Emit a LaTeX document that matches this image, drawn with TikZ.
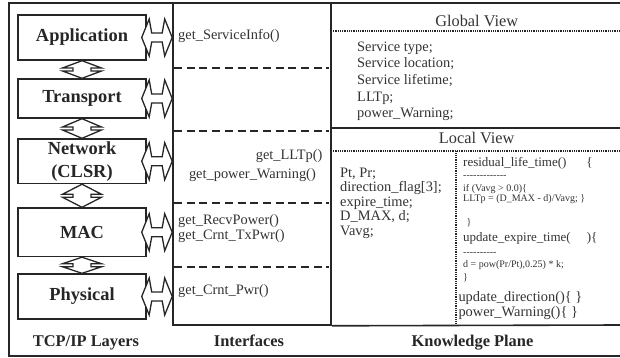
\documentclass[tikz,border=0pt]{standalone}
\usepackage{fontspec}
\setmainfont{Liberation Serif}
\usetikzlibrary{calc}
\newcommand\fsz[2]{\fontsize{#1}{#2}\selectfont}

% horizontal double arrow between a left tip and a right tip
\newcommand\hdarrow[2]{%
  \draw[dblarrow] (#1) -- ($(#1)+(7.5,-18.5)$) -- ($(#1)+(10,-4.5)$)
    -- ($(#2)+(-10,-4.5)$) -- ($(#2)+(-7.5,-18.5)$) -- (#2)
    -- ($(#2)+(-7.5,18.5)$) -- ($(#2)+(-10,4.5)$)
    -- ($(#1)+(10,4.5)$) -- ($(#1)+(7.5,18.5)$) -- cycle;}
% short vertical double arrow between two stacked layers
\newcommand\vdarrow[2]{%
  \coordinate (vm) at ($(#1)!0.5!(#2)$);
  \draw[dblarrow] (#1) -- ($(vm)+(19.5,-1.5)$) -- ($(vm)+(9,-1.5)$)
    -- ($(vm)+(9,1.5)$) -- ($(vm)+(19.5,1.5)$) -- (#2)
    -- ($(vm)+(-19.5,1.5)$) -- ($(vm)+(-9,1.5)$)
    -- ($(vm)+(-9,-1.5)$) -- ($(vm)+(-19.5,-1.5)$) -- cycle;}

\begin{document}
\begin{tikzpicture}[x=1pt,y=-1pt,
  frameline/.style={draw=black!85,line width=1.6pt},
  layerbox/.style={draw=black!85,line width=1.4pt,fill=white,minimum width=128pt,
    inner sep=0pt,align=center,text=black!85,font=\fsz{18.4}{23}\bfseries},
  dblarrow/.style={draw=black!85,line width=1.3pt,fill=white,line join=miter},
  sepdash/.style={draw=black!85,line width=2pt,dash pattern=on 8pt off 4.7pt},
  sepdot/.style={draw=black!85,line width=2pt,dash pattern=on 1pt off 0.8pt},
  colhead/.style={text=black!85,inner sep=0pt,font=\fsz{16.4}{18}\bfseries},
  viewhead/.style={text=black!80,inner sep=0pt,font=\fsz{16.3}{18}},
  txt/.style={text=black!80,inner sep=0pt,anchor=base west,font=\fsz{14.4}{16}},
  code/.style={text=black!80,inner sep=0pt,anchor=base west,font=\fsz{13}{15}},
  small/.style={text=black!80,inner sep=0pt,anchor=base west,font=\fsz{10}{12}},
]
\useasboundingbox (0,0) rectangle (620,358);

% outer frame
\draw[frameline] (9,3) rectangle (620.5,356);

% interfaces column
\node[frameline,minimum width=158pt,minimum height=322pt,inner sep=0pt] (ifc) at (252,164) {};
\foreach \yy in {68.3,131,203.3,266.7}
  \draw[sepdash] (174,\yy) -- (329,\yy);

% knowledge plane
\draw[frameline] (ifc.south east) -- (620.5,325);
\draw[frameline] (331,128) -- (620.5,128);
\draw[sepdot] (331,31.5) -- (620.5,31.5);
\draw[sepdot] (331,151.5) -- (620.5,151.5);
\draw[sepdot] (456,151.5) -- (456,324);

% TCP/IP layers
\node[layerbox,minimum height=45pt]   (app) at (82,37.5)   {Application};
\node[layerbox,minimum height=39pt]   (trn) at (82,98.5)   {Transport};
\node[layerbox,minimum height=44.5pt] (net) at (82,161.25) {Network\\(CLSR)};
\node[layerbox,minimum height=48.5pt] (mac) at (82,232.25) {MAC};
\node[layerbox,minimum height=45pt]   (phy) at (82,296.5)  {Physical};

% arrows between adjacent layers
\vdarrow{app.south}{trn.north}
\vdarrow{trn.south}{net.north}
\vdarrow{net.south}{mac.north}
\vdarrow{mac.south}{phy.north}

% arrows from each layer to the interfaces
\foreach \l in {app,trn,net,mac,phy}{
  \coordinate (\l L) at ($(\l.east)+(-5,0)$);
  \coordinate (\l R) at (\l.east -| ifc.west);
  \hdarrow{\l L}{\l R}
}

% interface functions
\node[txt] (i1) at (178,39.5) {get\_ServiceInfo()};
\node[txt,anchor=base east] (i2) at (322.7,159.5) {get\_LLTp()};
\node[txt,anchor=base east] (i3) at (316,178) {get\_power\_Warning()};
\node[txt] (i4) at (178,224.5) {get\_RecvPower()};
\node[txt] (i5) at (178,239.5) {get\_Crnt\_TxPwr()};
\node[txt] (i6) at (178,294.5) {get\_Crnt\_Pwr()};

% global view
\node[viewhead,anchor=base] (gvh) at (476.7,27) {Global View};
\node[txt] (g1) at (357,51.2)  {Service type;};
\node[txt] (g2) at (357,67.9)  {Service location;};
\node[txt] (g3) at (357,84.5)  {Service lifetime;};
\node[txt] (g4) at (357,101.2) {LLTp;};
\node[txt] (g5) at (357,117.8) {power\_Warning;};

% local view
\node[viewhead,anchor=base] (lvh) at (476.7,143) {Local View};
\node[txt] (l1) at (340,177)   {Pt, Pr;};
\node[txt] (l2) at (340,191.6) {direction\_flag[3];};
\node[txt] (l3) at (340,206.2) {expire\_time;};
\node[txt] (l4) at (340,220.8) {D\_MAX, d;};
\node[txt] (l5) at (340,235.4) {Vavg;};

\node[code]  (c1)  at (463,166.5) {residual\_life\_time()\hspace{20pt}\{};
\node[small] (c2)  at (463,178)   {-{}-{}-{}-{}-{}-{}-{}-{}-{}-{}-{}-{}-};
\node[small] (c3)  at (463,191.5) {if (Vavg > 0.0)\{};
\node[small] (c4)  at (463,201.5) {LLTp = (D\_MAX - d)/Vavg; \}};
\node[small] (c5)  at (466.5,225) {\}};
\node[code]  (c6)  at (463,241)   {update\_expire\_time(\hspace{16pt})\{};
\node[small] (c7)  at (463,255)   {-{}-{}-{}-{}-{}-{}-{}-{}-{}-};
\node[small] (c8)  at (463,267.5) {d = pow(Pr/Pt),0.25) * k;};
\node[small] (c9)  at (463,280)   {\}};
\node[txt]   (c10) at (458.3,301) {update\_direction()\{ \}};
\node[txt]   (c11) at (458.3,316) {power\_Warning()\{ \}};

% column titles
\node[colhead,anchor=base] (t1) at (86,346.5)  {TCP/IP Layers};
\node[colhead,anchor=base] (t2) at (249,346.5) {Interfaces};
\node[colhead,anchor=base] (t3) at (472.5,346.5) {Knowledge Plane};
\end{tikzpicture}
\end{document}
